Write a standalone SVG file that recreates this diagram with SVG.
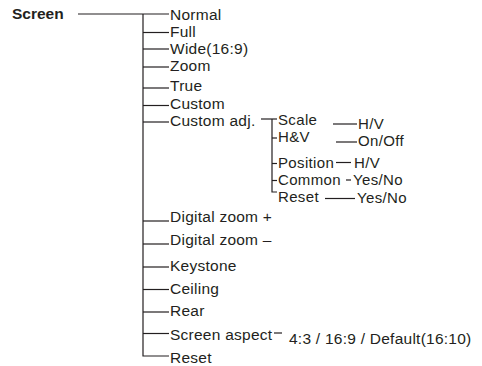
<svg xmlns="http://www.w3.org/2000/svg" width="482" height="366" viewBox="0 0 482 366">
<style>
text{font-family:"Liberation Sans",Arial,sans-serif;font-size:15.5px;letter-spacing:0.25px;fill:#231f20}
.b{font-weight:bold;letter-spacing:0}
.s{font-size:15px;letter-spacing:0.35px}
.c line,.c path{stroke:#231f20;stroke-width:1.2;fill:none}
</style>
<rect width="482" height="366" fill="#fff"/>
<g class="c" id="connectors">
<line x1="78" y1="14" x2="169" y2="14"/>
<path d="M143 14V356H169"/>
<line x1="143" y1="32.5" x2="169" y2="32.5"/>
<line x1="143" y1="49" x2="169" y2="49"/>
<line x1="143" y1="67" x2="169" y2="67"/>
<line x1="143" y1="88" x2="169" y2="88"/>
<line x1="143" y1="105.5" x2="169" y2="105.5"/>
<line x1="143" y1="122" x2="169" y2="122"/>
<line x1="143" y1="221" x2="169" y2="221"/>
<line x1="143" y1="244" x2="169" y2="244"/>
<line x1="143" y1="267" x2="169" y2="267"/>
<line x1="143" y1="289.5" x2="169" y2="289.5"/>
<line x1="143" y1="312" x2="169" y2="312"/>
<line x1="143" y1="333.5" x2="169" y2="333.5"/>
<line x1="261" y1="119" x2="277" y2="119"/>
<path d="M272 119V192H277"/>
<line x1="272" y1="138" x2="277" y2="138"/>
<line x1="272" y1="163.5" x2="277" y2="163.5"/>
<line x1="272" y1="180.5" x2="277" y2="180.5"/>
<line x1="333" y1="124" x2="357" y2="124"/>
<line x1="336" y1="142" x2="357" y2="142"/>
<line x1="336" y1="162.5" x2="351" y2="162.5"/>
<line x1="346" y1="180" x2="351" y2="180"/>
<line x1="325" y1="198.5" x2="355" y2="198.5"/>
<line x1="274" y1="333" x2="282" y2="333"/>
</g>
<g id="screen"><text class="b" x="12" y="19">Screen</text></g>
<g id="normal"><text x="170" y="19.5">Normal</text></g>
<g id="full"><text x="170" y="37">Full</text></g>
<g id="wide"><text x="170" y="53.5">Wide(16:9)</text></g>
<g id="zoom"><text x="170" y="70.5">Zoom</text></g>
<g id="true"><text x="170" y="91">True</text></g>
<g id="custom"><text x="170" y="109">Custom</text></g>
<g id="custom-adj"><text x="170" y="125.5">Custom adj.</text></g>
<g id="scale"><text class="s" x="278" y="125">Scale</text></g>
<g id="hv"><text class="s" x="278" y="142">H&amp;V</text></g>
<g id="position"><text class="s" x="278" y="168">Position</text></g>
<g id="common"><text class="s" x="278" y="184.5">Common</text></g>
<g id="reset-adj"><text class="s" x="278" y="201.5">Reset</text></g>
<g id="scale-val"><text class="s" x="358" y="128.5">H/V</text></g>
<g id="hv-val"><text class="s" x="358" y="146">On/Off</text></g>
<g id="position-val"><text class="s" x="354" y="167.5">H/V</text></g>
<g id="common-val"><text class="s" x="353" y="185">Yes/No</text></g>
<g id="reset-adj-val"><text class="s" x="357" y="202.5">Yes/No</text></g>
<g id="dzoom-plus"><text x="170" y="222">Digital zoom +</text></g>
<g id="dzoom-minus"><text x="170" y="245">Digital zoom –</text></g>
<g id="keystone"><text x="170" y="271">Keystone</text></g>
<g id="ceiling"><text x="170" y="294">Ceiling</text></g>
<g id="rear"><text x="170" y="316">Rear</text></g>
<g id="screen-aspect"><text x="170" y="339.5">Screen aspect</text></g>
<g id="aspect-val"><text x="289" y="344">4:3 / 16:9 / Default(16:10)</text></g>
<g id="reset"><text x="170" y="363">Reset</text></g>
</svg>
